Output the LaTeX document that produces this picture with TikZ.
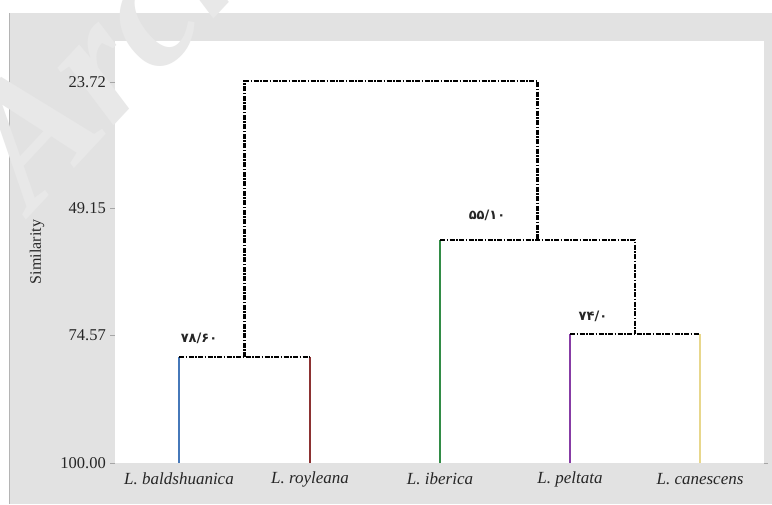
\documentclass[tikz,border=0pt]{standalone}
\usepackage{fontspec}
\setmainfont{Liberation Serif}
\newfontfamily\pfont{DejaVu Sans}
\definecolor{bggray}{RGB}{226,226,226}
\definecolor{wm}{RGB}{232,232,232}
\definecolor{edge}{RGB}{180,180,180}
\definecolor{cb}{RGB}{70,120,185}
\definecolor{cr}{RGB}{140,50,50}
\definecolor{cg}{RGB}{50,140,70}
\definecolor{cp}{RGB}{135,60,165}
\definecolor{cy}{RGB}{232,215,140}
\tikzset{
  link/.style={line width=2.8pt, dash pattern=on 5pt off 1.5pt on 1.5pt off 1.5pt, black},
  leafline/.style={line width=1.6pt},
  ticklab/.style={font=\fontsize{16.5}{18}\selectfont, anchor=east, text=black!85, inner sep=0pt},
  leaflab/.style={font=\fontsize{17}{18}\selectfont\itshape, text=black!85, inner sep=0pt},
  boot/.style={font=\pfont\bfseries\fontsize{13}{14}\selectfont, text=black!85, inner sep=0pt},
  tickmark/.style={draw=black!35, line width=0.6pt}
}
\begin{document}
\begin{tikzpicture}[x=1pt,y=-1pt]
\useasboundingbox (0,0) rectangle (772,504);
\begin{scope}
\clip (0,0) rectangle (772,504);
\fill[white] (0,0) rectangle (772,504);
\fill[bggray] (9,13) rectangle (772,504);
\draw[edge, line width=1pt] (9.5,13) -- (9.5,504);
\fill[white] (115,41) rectangle (764,463);
\node[rotate=47, anchor=base west, font=\fontsize{175}{175}\selectfont\bfseries\itshape, text=wm, inner sep=0pt] (wmark) at (32,214) {Archive of SID};
\end{scope}

% axis ticks and labels
\foreach \v/\y/\n in {23.72/82/t1, 49.15/208/t2, 74.57/335/t3, 100.00/463/t4}{
  \node[ticklab] (\n) at (106,\y) {\v};
  \draw[tickmark] (110,\y) -- (115,\y);
}
\draw[tickmark] (764,463) -- (768,463);
\node[rotate=90, font=\fontsize{16}{18}\selectfont, text=black!85] (ylab) at (37,252) {Similarity};

% leaves
\coordinate (lb) at (179,463);
\coordinate (lr) at (310,463);
\coordinate (li) at (440,463);
\coordinate (lp) at (570,463);
\coordinate (lc) at (700,463);
% joins
\coordinate (j1) at (244.5,357);
\coordinate (j2) at (635,334);
\coordinate (j3) at (537.5,240);
\coordinate (j4) at (391,81);

\draw[leafline, cb] (lb) -- (lb |- j1);
\draw[leafline, cr] (lr) -- (lr |- j1);
\draw[leafline, cg] (li) -- (li |- j3);
\draw[leafline, cp] (lp) -- (lp |- j2);
\draw[leafline, cy] (lc) -- (lc |- j2);

\draw[link] (lb |- j1) -- (lr |- j1);
\draw[link] (lp |- j2) -- (lc |- j2);
\draw[link] (li |- j3) -| (j2);
\draw[link] (j1) |- (j4) -| (j3);

% leaf labels
\node[leaflab] (nb) at (179,479) {L. baldshuanica};
\node[leaflab] (nr) at (310,479) {L. royleana};
\node[leaflab] (ni) at (440,479) {L. iberica};
\node[leaflab] (np) at (570,479) {L. peltata};
\node[leaflab] (nc) at (700,479) {L. canescens};

% bootstrap labels
\node[boot] (bs1) at (199,338) {۷۸/۶۰};
\node[boot] (bs2) at (487,215) {۵۵/۱۰};
\node[boot] (bs3) at (593,316) {۷۴/۰};
\end{tikzpicture}
\end{document}
